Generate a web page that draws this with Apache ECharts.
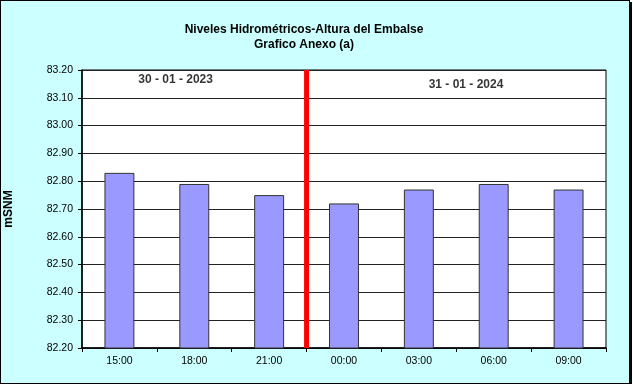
<!DOCTYPE html>
<html><head><meta charset="utf-8">
<script src="https://cdn.jsdelivr.net/npm/echarts@6/dist/echarts.min.js"></script>
<style>
html,body{margin:0;padding:0;background:#fff;}
#c{width:628px;height:382px;border:1px solid #000;box-shadow:2px 2px 0 #000;background:#CCFFFF;}
</style></head><body>
<div id="c"></div>
<script>
const categories = ["15:00","18:00","21:00","00:00","03:00","06:00","09:00"];
const levels = [82.83, 82.79, 82.75, 82.72, 82.77, 82.79, 82.77];
const dayLabels = ["30 - 01 - 2023", "31 - 01 - 2024"];
const dayLabelPos = [[1.25, 83.164], [5.13, 83.146]];
const dividerAt = 3;
const yMin = 82.2, yMax = 83.2, yStep = 0.1;

const chart = echarts.init(document.getElementById('c'), null, {renderer:'canvas'});
const font = 'Arial, "Liberation Sans", sans-serif';
chart.setOption({
  backgroundColor: '#CCFFFF',
  animation: false,
  title: {
    text: 'Niveles Hidrométricos-Altura del Embalse\nGrafico Anexo (a)',
    left: 298, textAlign: 'center', top: 16,
    textStyle: {fontFamily: font, fontSize: 12, fontWeight: 'bold', color: '#000', lineHeight: 15}
  },
  grid: {left: 81, right: 23, top: 69, bottom: 35, containLabel: false, outerBoundsMode: 'none',
    show: true, backgroundColor: '#fff', borderColor: '#000', borderWidth: 1},
  xAxis: [{
    type: 'category', data: categories, boundaryGap: true,
    axisLine: {lineStyle: {color: '#000', width: 1.5}},
    axisTick: {show: true, inside: false, length: 4, lineStyle: {color: '#000'}},
    axisLabel: {fontFamily: font, fontSize: 10.5, color: '#000', margin: 8}
  }, {
    type: 'value', min: 0, max: categories.length, show: false
  }],
  yAxis: {
    type: 'value', min: yMin, max: yMax, interval: yStep,
    name: 'mSNM', nameLocation: 'middle', nameGap: 67, nameRotate: 90,
    nameTextStyle: {fontFamily: font, fontSize: 12, fontWeight: 'bold', color: '#000'},
    axisLine: {show: true, lineStyle: {color: '#000', width: 1.5}},
    axisTick: {show: true, length: 4, lineStyle: {color: '#000'}},
    axisLabel: {fontFamily: font, fontSize: 10.5, color: '#000', margin: 9, formatter: v => v.toFixed(2)},
    splitLine: {show: true, lineStyle: {color: '#222', width: 1}}
  },
  series: [{
    type: 'bar', data: levels, barWidth: '40%',
    itemStyle: {color: '#9999FF', borderColor: '#333', borderWidth: 1}
  }, {
    type: 'line', xAxisIndex: 1, data: [[dividerAt, yMin], [dividerAt, yMax]],
    symbol: 'none', lineStyle: {color: '#FF0000', width: 5}, z: 5
  }, {
    type: 'scatter', xAxisIndex: 1, symbolSize: 0,
    data: dayLabelPos.map((p, i) => ({value: p, name: dayLabels[i]})),
    label: {show: true, position: 'inside', formatter: p => p.name,
      fontFamily: font, fontSize: 12, fontWeight: 'bold', color: '#000'}
  }]
});
</script></body></html>
